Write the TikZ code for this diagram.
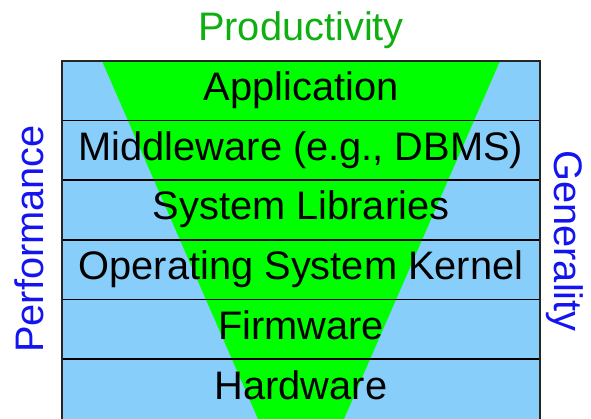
\documentclass[tikz,border=0pt]{standalone}
\usepackage{fontspec}
\setmainfont{Liberation Sans}
\definecolor{layerblue}{RGB}{135,206,250}
\definecolor{funnelgreen}{RGB}{0,255,0}
\definecolor{prodgreen}{RGB}{15,175,15}
\definecolor{sideblue}{RGB}{20,20,240}
\begin{document}
\begin{tikzpicture}[x=1pt,y=-1pt,
  layertext/.style={anchor=base,inner sep=0pt,font=\fontsize{39.8}{40}\selectfont,text=black},
  sidetext/.style={anchor=base,inner sep=0pt,font=\fontsize{39.8}{40}\selectfont,text=sideblue},
  rowline/.style={line width=1.6pt,draw=black}]
\useasboundingbox (0,0) rectangle (591,419);
% background layers
\fill[layerblue] (62,61) rectangle (540,419);
% funnel
\fill[funnelgreen] (102,61) -- (500,61) -- (344,419) -- (258,419) -- cycle;
% row separators
\foreach \yy in {120.6,180.2,239.8,299.4,359} {
  \draw[rowline] (62,\yy) -- (540,\yy);
}
\draw[line width=1.8pt,draw=black!85] (62,61) rectangle (540,419.5);
% layer texts
\node[layertext] (app) at (301,100.5) {Application};
\node[layertext] (mid) at (301,161) {Middleware (e.g., DBMS)};
\node[layertext] (lib) at (301,220) {System Libraries};
\node[layertext] (ker) at (301,279.5) {Operating System Kernel};
\node[layertext] (fw) at (301,339) {Firmware};
\node[layertext] (hw) at (301,399) {Hardware};
% side labels
\node[anchor=base,inner sep=0pt,font=\fontsize{39.8}{40}\selectfont,text=prodgreen] (prod) at (301,41) {Productivity};
\node[sidetext,rotate=90] (perf) at (43,239) {Performance};
\node[sidetext,rotate=-90] (gen) at (554,241) {Generality};
\end{tikzpicture}
\end{document}
